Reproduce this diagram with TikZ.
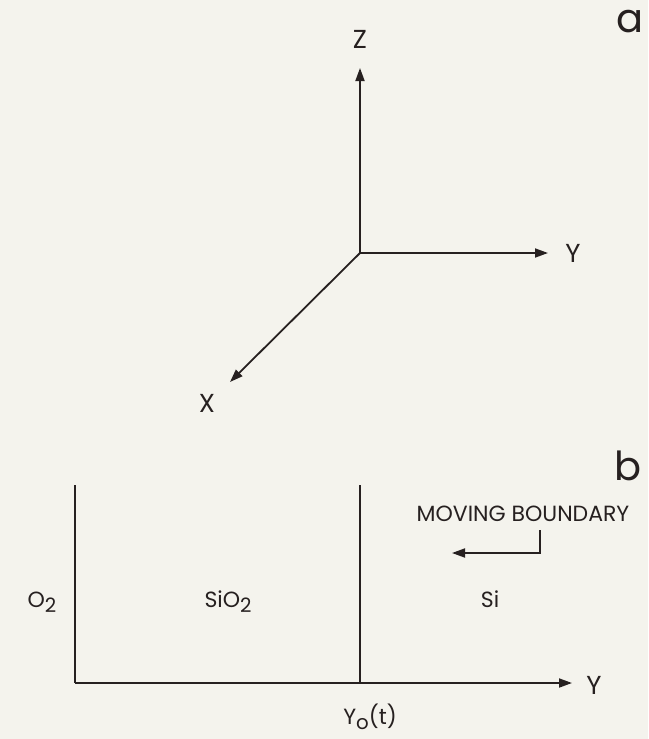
\documentclass[tikz,border=0pt]{standalone}
\usepackage{fontspec}
\setmainfont{Poppins}
\usetikzlibrary{arrows.meta}
\definecolor{paper}{RGB}{244,243,237}
\definecolor{ink}{RGB}{38,32,32}
\newcommand{\lowsub}[1]{\raisebox{-0.45ex}{\scalebox{0.9}{#1}}}
\begin{document}
\begin{tikzpicture}[x=1pt,y=-1pt,
  ax/.style={ink,line width=1.8pt,-{Triangle[length=13pt,width=9pt]}},
  ln/.style={ink,line width=1.8pt},
  lbl/.style={text=ink,font=\fontsize{26}{28}\selectfont,inner sep=0pt},
  txt/.style={text=ink,font=\fontsize{22}{24}\selectfont,inner sep=0pt},
  big/.style={text=ink,font=\fontsize{40}{42}\selectfont,inner sep=0pt}]
\useasboundingbox[fill=paper] (0,0) rectangle (648,739);
% part a
\node[big] (la) at (630,22) {a};
\coordinate (o) at (360,253);
\coordinate (zt) at (360,68);
\coordinate (yt) at (548,253);
\coordinate (xt) at (230,382);
\draw[ax] (o) -- (zt);
\draw[ax] (o) -- (yt);
\draw[ax] (o) -- (xt);
\node[lbl] (lz) at (360,39) {Z};
\node[lbl] (ly) at (573,253) {Y};
\node[lbl] (lx) at (207,403) {X};
% part b
\node[big] (lb) at (628,466) {b};
\coordinate (l1) at (75,485);
\coordinate (l0) at (75,683);
\coordinate (m1) at (360,485);
\coordinate (m0) at (360,683);
\coordinate (bt) at (572,683);
\draw[ln] (l1) -- (l0);
\draw[ln] (m1) -- (m0);
\draw[ax] (l0) -- (bt);
\node[lbl] (lby) at (594,685) {Y};
\node[txt,anchor=base] (y0) at (370,724) {Y\lowsub{o}(t)};
\node[txt,anchor=base] (o2) at (42,607) {O\lowsub{2}};
\node[txt,anchor=base] (sio2) at (228,607) {SiO\lowsub{2}};
\node[txt,anchor=base] (si) at (490,607) {Si};
\node[txt] (mb) at (523,514) {MOVING BOUNDARY};
\coordinate (h0) at (540,530);
\coordinate (h1) at (540,553);
\coordinate (h2) at (452,553);
\draw[ln,-{Triangle[length=13pt,width=9pt]}] (h0) -- (h1) -- (h2);
\end{tikzpicture}
\end{document}
